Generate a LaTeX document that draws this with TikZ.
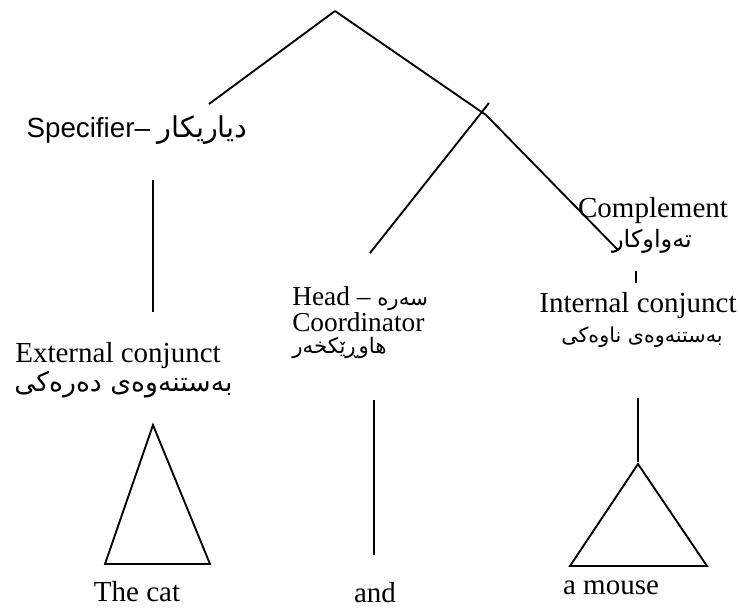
\documentclass[tikz,border=0pt]{standalone}
\usepackage{fontspec}
\setmainfont{Liberation Serif}
\setsansfont{Liberation Sans}
\newfontfamily\kurdfont[Script=Arabic]{DejaVu Sans}
\TeXXeTstate=1
\newcommand{\ksize}[1]{\kurdfont\fontsize{#1}{#1}\selectfont}

\begin{document}
\begin{tikzpicture}[x=0.75pt,y=-0.75pt]
		\tikzset{lbl/.style = {inner sep=0pt, anchor=base, font=\fontsize{21.75}{26}\selectfont}}
		\tikzset{edge/.style = {line width=1.4pt}}
		\useasboundingbox (0,0) rectangle (740,608);

		\coordinate (top) at (335,11);
		\coordinate (J) at (486,115);
		\coordinate (Jt) at (489,103);
		\coordinate (specEnd) at (209,104);
		\coordinate (headEnd) at (370,253);
		\coordinate (compEnd) at (618,250);

		% labels
		\node[lbl, font=\sffamily\fontsize{20.8}{24}\selectfont] (spec) at (137,137) {Specifier--\ {\ksize{21.5}\beginR دیاریکار\endR}};
		\node[lbl] (ext) at (118,362) {External conjunct};
		\node[lbl, anchor=base west] (extKu) at (14,391) {\ksize{20}\beginR بەستنەوەی دەرەکی\endR};
		\node[lbl, anchor=base west, font=\fontsize{20.5}{24}\selectfont] (head) at (292,305) {Head -- {\ksize{16}\beginR سەرە\endR}};
		\node[lbl, anchor=base west, font=\fontsize{20.5}{24}\selectfont] (coord) at (292,331) {Coordinator};
		\node[lbl, anchor=base west] (headKu) at (292,353) {\ksize{16}\beginR هاوڕێکخەر\endR};
		\node[lbl] (comp) at (653,217) {Complement};
		\node[lbl] (compKu) at (652,247) {\ksize{18}\beginR تەواوکار\endR};
		\node[lbl] (int) at (638,312) {Internal conjunct};
		\node[lbl] (intKu) at (642,342) {\ksize{15.5}\beginR بەستنەوەی ناوەکی\endR};
		\node[lbl] (cat) at (137,601) {The cat};
		\node[lbl] (and) at (375,602) {and};
		\node[lbl] (mouse) at (611,594) {a mouse};

		\coordinate (s1) at (153,180);
		\coordinate (s2) at (153,312);
		\coordinate (h1) at (374,400);
		\coordinate (h2) at (374,555);
		\coordinate (c1) at (636,271);
		\coordinate (c2) at (636,283);
		\coordinate (i1) at (638,398);
		\coordinate (i2) at (638,462);

		% branches
		\draw[edge] (top) to (specEnd) {};
		\draw[edge] (top) to (J) {};
		\draw[edge] (J) to (compEnd) {};
		\draw[edge] (Jt) to (headEnd) {};

		\draw[edge] (s1) to (s2) {};
		\draw[edge] (h1) to (h2) {};
		\draw[edge] (c1) to (c2) {};
		\draw[edge] (i1) to (i2) {};

		% triangles
		\draw[edge] (153,425) -- (105,564) -- (210,564) -- cycle;
		\draw[edge] (638,464) -- (570,566) -- (707,566) -- cycle;
	\end{tikzpicture}
\end{document}
